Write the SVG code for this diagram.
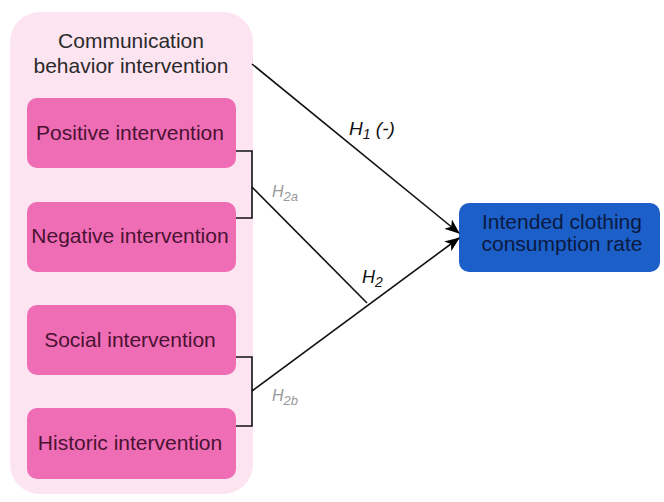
<svg xmlns="http://www.w3.org/2000/svg" width="664" height="502" viewBox="0 0 664 502">
<defs>
<style>
.lbl{font-family:"Liberation Sans",Arial,sans-serif;font-size:21px;text-anchor:middle}
.pink{fill:#ef6db4}
.pt{fill:#4a1233}
.ln{stroke:#111;stroke-width:1.6;fill:none}
.hyp{font-family:"Liberation Sans",Arial,sans-serif;font-style:italic}
</style>
<marker id="ah" viewBox="0 0 15 12" refX="14" refY="6" markerWidth="15" markerHeight="12" markerUnits="userSpaceOnUse" orient="auto">
<path d="M0,0 L15,6 L0,12 L4,6 Z" fill="#000"/>
</marker>
</defs>
<rect width="664" height="502" fill="#fff"/>
<g id="container">
<rect x="10" y="12" width="243" height="482" rx="30" fill="#fde4f1"/>
<text class="lbl" x="131" y="48" fill="#2a2a2a">Communication</text>
<text class="lbl" x="131" y="73" fill="#2a2a2a">behavior intervention</text>
</g>
<g id="positive">
<rect class="pink" x="27" y="98" width="209" height="70" rx="10"/>
<text class="lbl pt" x="130" y="140">Positive intervention</text>
</g>
<g id="negative">
<rect class="pink" x="27" y="202" width="209" height="70" rx="10"/>
<text class="lbl pt" x="130" y="243">Negative intervention</text>
</g>
<g id="social">
<rect class="pink" x="27" y="305" width="209" height="70" rx="10"/>
<text class="lbl pt" x="130" y="347">Social intervention</text>
</g>
<g id="historic">
<rect class="pink" x="27" y="408" width="209" height="71" rx="10"/>
<text class="lbl pt" x="130" y="450">Historic intervention</text>
</g>
<g id="outcome">
<rect x="459" y="203" width="201" height="69" rx="10" fill="#1c5fc9"/>
<text class="lbl" x="562" y="229" fill="#0b1a40">Intended clothing</text>
<text class="lbl" x="562" y="251" fill="#0b1a40">consumption rate</text>
</g>
<g id="connectors">
<path class="ln" d="M236,151 H252 V218 H236"/>
<path class="ln" d="M236,357 H252 V426 H236"/>
<path class="ln" d="M252,64 L459,233" marker-end="url(#ah)"/>
<path class="ln" d="M252,391 L459,238" marker-end="url(#ah)"/>
<path class="ln" d="M252,187 L367,303"/>
</g>
<g id="labels">
<text class="hyp" x="349" y="135" font-size="19" fill="#111">H<tspan font-size="14" dy="4">1</tspan><tspan dy="-4"> (-)</tspan></text>
<text class="hyp" x="362" y="283" font-size="18" fill="#111">H<tspan font-size="14" dy="4">2</tspan></text>
<text class="hyp" x="272" y="197" font-size="16" fill="#999">H<tspan font-size="13" dy="4">2a</tspan></text>
<text class="hyp" x="272" y="401" font-size="16" fill="#999">H<tspan font-size="13" dy="4">2b</tspan></text>
</g>
</svg>
